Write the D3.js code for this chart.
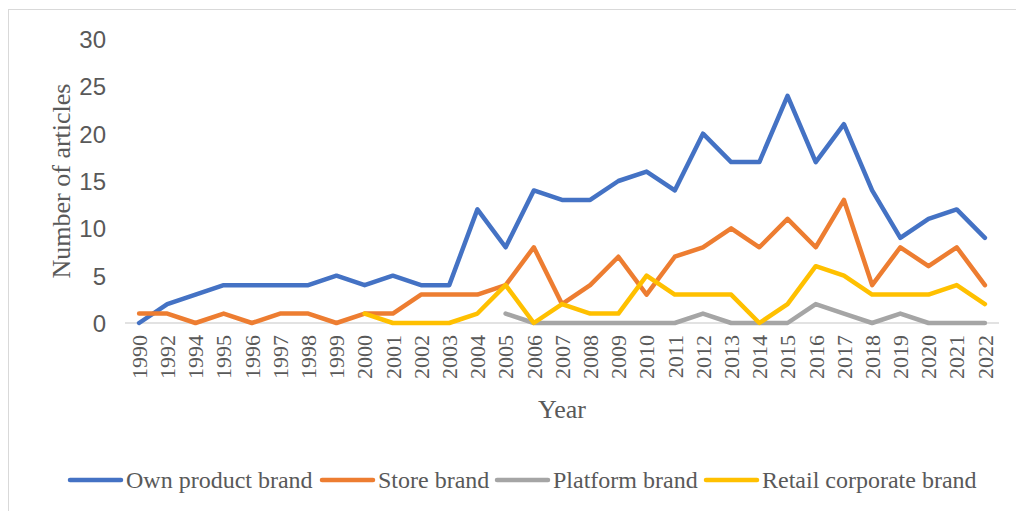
<!DOCTYPE html>
<html>
<head>
<meta charset="utf-8">
<script src="https://cdn.jsdelivr.net/npm/d3@7"></script>
<style>
  html, body { margin: 0; padding: 0; background: #fff; }
  svg { display: block; }
</style>
</head>
<body>
<svg id="chart" width="1016" height="511"></svg>
<script>
// Publication years (uneven start: 1990, 1992, then yearly from 1994)
const years = ["1990","1992","1994","1995","1996","1997","1998","1999","2000","2001","2002","2003","2004","2005","2006","2007","2008","2009","2010","2011","2012","2013","2014","2015","2016","2017","2018","2019","2020","2021","2022"];

// Article counts per year for each brand type (null = no data yet)
const ownProductBrand = [0,2,3,4,4,4,4,5,4,5,4,4,12,8,14,13,13,15,16,14,20,17,17,24,17,21,14,9,11,12,9];
const storeBrand      = [1,1,0,1,0,1,1,0,1,1,3,3,3,4,8,2,4,7,3,7,8,10,8,11,8,13,4,8,6,8,4];
const platformBrand   = [null,null,null,null,null,null,null,null,null,null,null,null,null,1,0,0,0,0,0,0,1,0,0,0,2,1,0,1,0,0,0];
const retailCorporateBrand = [null,null,null,null,null,null,null,null,1,0,0,0,1,4,0,2,1,1,5,3,3,3,0,2,6,5,3,3,3,4,2];

const yTicks = [0,5,10,15,20,25,30];

const seriesNames = ["Own product brand","Store brand","Platform brand","Retail corporate brand"];
const seriesValues = [ownProductBrand, storeBrand, platformBrand, retailCorporateBrand];
const seriesColors = ["#4472C4","#ED7D31","#A5A5A5","#FFC000"];

const serif = "'Liberation Serif', 'Times New Roman', serif";
const svg = d3.select("#chart");

// chart frame
svg.append("rect")
  .attr("x", 8.5).attr("y", 9.5)
  .attr("width", 1012).attr("height", 510)
  .attr("fill", "none").attr("stroke", "#d9d9d9").attr("stroke-width", 1);

const plot = { left: 125, right: 999, top: 39, bottom: 323 };

const x = d3.scalePoint().domain(years).range([plot.left, plot.right]).padding(0.5);
const y = d3.scaleLinear().domain([0, 30]).range([plot.bottom, plot.top]);

// baseline
svg.append("line")
  .attr("x1", plot.left).attr("x2", plot.right)
  .attr("y1", y(0)).attr("y2", y(0))
  .attr("stroke", "#d9d9d9").attr("stroke-width", 1.5);

// y axis labels
const yAxis = d3.axisLeft(y).tickValues(yTicks).tickSize(0).tickPadding(0);
const gy = svg.append("g").attr("transform", `translate(106,0)`).call(yAxis);
gy.select(".domain").remove();
gy.selectAll("text")
  .attr("font-family", "'Liberation Sans', Arial, sans-serif")
  .attr("font-size", 24)
  .attr("fill", "#595959")
  .attr("dy", "0.36em");

// x axis labels (rotated)
const xAxis = d3.axisBottom(x).tickSize(0).tickPadding(0);
const gx = svg.append("g").attr("transform", `translate(0,${plot.bottom})`).call(xAxis);
gx.select(".domain").remove();
gx.selectAll("text")
  .attr("font-family", serif)
  .attr("font-size", 22)
  .attr("fill", "#595959")
  .attr("text-anchor", "end")
  .attr("transform", "rotate(-90)")
  .attr("x", -12)
  .attr("y", 0)
  .attr("dy", "0.33em");

// lines
const line = d3.line()
  .defined(d => d != null)
  .x((d, i) => x(years[i]))
  .y(d => y(d));

seriesValues.forEach((vals, k) => {
  svg.append("path")
    .datum(vals)
    .attr("d", line)
    .attr("fill", "none")
    .attr("stroke", seriesColors[k])
    .attr("stroke-width", 4.5)
    .attr("stroke-linejoin", "round")
    .attr("stroke-linecap", "round");
});

// axis titles
svg.append("text")
  .attr("transform", "translate(70,181) rotate(-90)")
  .attr("text-anchor", "middle")
  .attr("font-family", serif)
  .attr("font-size", 26)
  .attr("fill", "#595959")
  .text("Number of articles");

svg.append("text")
  .attr("x", 562).attr("y", 418)
  .attr("text-anchor", "middle")
  .attr("font-family", serif)
  .attr("font-size", 26)
  .attr("fill", "#595959")
  .text("Year");

// legend
const legendX = [68, 320, 495, 704];
const legend = svg.append("g");
seriesNames.forEach((name, k) => {
  const g = legend.append("g").attr("transform", `translate(${legendX[k]},480)`);
  g.append("line")
    .attr("x1", 2).attr("x2", 53).attr("y1", 0).attr("y2", 0)
    .attr("stroke", seriesColors[k]).attr("stroke-width", 4.5)
    .attr("stroke-linecap", "round");
  g.append("text")
    .attr("x", 58).attr("y", 0).attr("dy", "0.35em")
    .attr("font-family", serif)
    .attr("font-size", 24)
    .attr("fill", "#595959")
    .text(name);
});
</script>
</body>
</html>
